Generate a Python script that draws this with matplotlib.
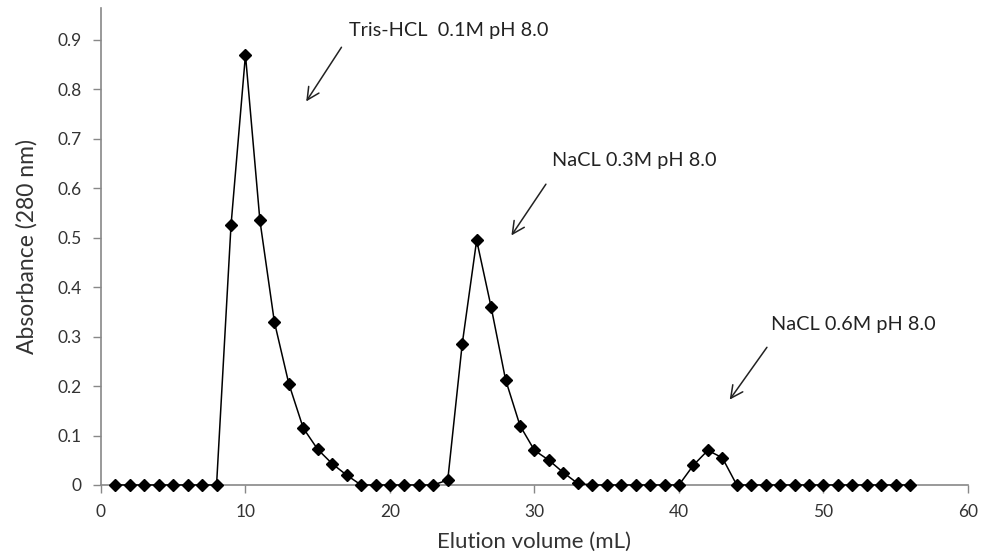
import numpy as np
import matplotlib.pyplot as plt

# elution data
volume = np.arange(1, 57)
absorb = [0, 0, 0, 0, 0, 0, 0, 0, 0.525, 0.87,
          0.535, 0.33, 0.205, 0.115, 0.072, 0.043, 0.02, 0, 0, 0,
          0, 0, 0, 0.01, 0.285, 0.495, 0.36, 0.213, 0.12, 0.07,
          0.05, 0.025, 0.003, 0, 0, 0, 0, 0, 0, 0,
          0.04, 0.07, 0.055, 0, 0, 0, 0, 0, 0, 0,
          0, 0, 0, 0, 0, 0]

labels = ['Tris-HCL  0.1M pH 8.0', 'NaCL 0.3M pH 8.0', 'NaCL 0.6M pH 8.0']
label_pos = [(17.2, 0.92), (31.2, 0.657), (46.4, 0.324)]
arrow_tail = [(16.75, 0.89), (30.9, 0.613), (46.2, 0.283)]
arrow_head = [(14.1, 0.771), (28.3, 0.50), (43.4, 0.168)]

plt.rcParams['font.family'] = ['Lato', 'DejaVu Sans']

fig = plt.figure(figsize=(9.83, 5.6), dpi=100)
ax = fig.add_axes([0.1027, 0.134, 0.882, 0.852])

ax.plot(volume, absorb, color='black', lw=1.1, marker='D', ms=6.5,
        markerfacecolor='black', markeredgecolor='black', clip_on=False, zorder=3)

for txt, (tx, ty), tail, head in zip(labels, label_pos, arrow_tail, arrow_head):
    ax.text(tx, ty, txt, fontsize=14.3, color='#222222', va='center', ha='left')
    ax.annotate('', xy=head, xytext=tail,
                arrowprops=dict(arrowstyle='->', color='#222222', lw=1.1,
                                mutation_scale=22))

ax.set_xlim(0, 60)
ax.set_ylim(0, 0.965)
ax.set_xticks(np.arange(0, 61, 10))
ax.set_yticks(np.arange(0, 0.91, 0.1))
ax.set_yticklabels(['0'] + ['%.1f' % v for v in np.arange(0.1, 0.91, 0.1)])

for s in ['top', 'right']:
    ax.spines[s].set_visible(False)
for s in ['left', 'bottom']:
    ax.spines[s].set_color('#888888')
    ax.spines[s].set_linewidth(1.2)
ax.tick_params(axis='both', colors='#888888', length=6, width=1.0,
               direction='out', labelsize=12.5, labelcolor='#333333', pad=8)

ax.set_xlabel('Elution volume (mL)', fontsize=16, color='#333333', labelpad=8)
ax.set_ylabel('Absorbance (280 nm)', fontsize=16.5, color='#333333', labelpad=14)

fig.savefig('out.png', dpi=100)
